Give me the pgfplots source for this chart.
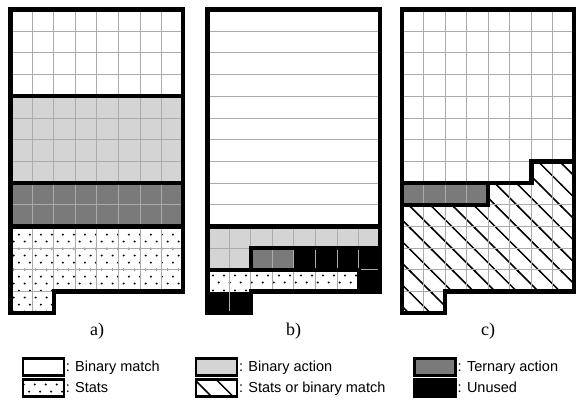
\documentclass[border=0pt]{standalone}
\usepackage{fontspec}
\setmainfont{Liberation Sans}
\newfontfamily\timesfont{Liberation Serif}
\usepackage{pgfplots}
\pgfplotsset{compat=1.18}
\usetikzlibrary{patterns}

\definecolor{gridgray}{HTML}{ABABAB}
\definecolor{actiongray}{HTML}{D4D4D4}
\definecolor{ternarygray}{HTML}{7A7A7A}

% stats: staggered dots, hatch: backslash lines one cell apart
\pgfdeclarepatternformonly{statdots}{\pgfqpoint{0bp}{0bp}}{\pgfqpoint{10.8bp}{14.4bp}}{\pgfqpoint{10.8bp}{14.4bp}}{%
  \pgfpathcircle{\pgfqpoint{2.7bp}{3.6bp}}{1.15bp}%
  \pgfpathcircle{\pgfqpoint{8.1bp}{10.8bp}}{1.15bp}%
  \pgfusepath{fill}}
\pgfdeclarepatternformonly{hatch}{\pgfqpoint{-1bp}{-1bp}}{\pgfqpoint{22.6bp}{22.6bp}}{\pgfqpoint{21.6bp}{21.6bp}}{%
  \pgfsetlinewidth{1.5bp}%
  \pgfpathmoveto{\pgfqpoint{-1bp}{22.6bp}}%
  \pgfpathlineto{\pgfqpoint{22.6bp}{-1bp}}%
  \pgfusepath{stroke}}

\pgfplotsset{
  panel/.style={xmin=0, xmax=8, ymin=0, ymax=14, y dir=reverse,
    width=172.8bp, height=303.8bp, scale only axis, hide axis,
    clip=false, anchor=north west},
  gridline/.style={gridgray, line width=1bp, mark=none, unbounded coords=jump, forget plot},
  region/.style={draw=none, mark=none, forget plot},
  border/.style={black, line width=4.3bp, mark=none, line join=miter, line cap=rect, unbounded coords=jump, forget plot},
}

\begin{document}
\begin{tikzpicture}
\path[use as bounding box] (0,0) rectangle (576bp,401bp);

% ---- a) ----
\begin{axis}[panel, at={(10.5bp,391.5bp)}]
\addplot[region, fill=actiongray] coordinates {(0,4) (8,4) (8,8) (0,8)} -- cycle;
\addplot[region, fill=ternarygray] coordinates {(0,8) (8,8) (8,10) (0,10)} -- cycle;
\addplot[region, pattern=statdots] coordinates {(0,10) (8,10) (8,13) (2,13) (2,14) (0,14)} -- cycle;
\addplot[gridline] coordinates {
  (1,0) (1,14) (1,nan) (2,0) (2,13) (2,nan) (3,0) (3,13) (3,nan) (4,0) (4,13) (4,nan)
  (5,0) (5,13) (5,nan) (6,0) (6,13) (6,nan) (7,0) (7,13) (7,nan)
  (0,1) (8,1) (8,nan) (0,2) (8,2) (8,nan) (0,3) (8,3) (8,nan) (0,5) (8,5) (8,nan)
  (0,6) (8,6) (8,nan) (0,7) (8,7) (8,nan) (0,9) (8,9) (8,nan) (0,11) (8,11) (8,nan)
  (0,12) (8,12) (8,nan) (0,13) (2,13)};
\addplot[border] coordinates {(0,4) (8,4) (8,nan) (0,8) (8,8) (8,nan) (0,10) (8,10)};
\addplot[border] coordinates {(0,0) (8,0) (8,13) (2,13) (2,14) (0,14)} -- cycle;
\end{axis}

% ---- b) ----
\begin{axis}[panel, at={(207.5bp,391.5bp)}]
\addplot[region, fill=actiongray] coordinates {(0,10) (8,10) (8,11) (2,11) (2,12) (0,12)} -- cycle;
\addplot[region, fill=ternarygray] coordinates {(2,11) (4,11) (4,12) (2,12)} -- cycle;
\addplot[region, fill=black] coordinates {(4,11) (8,11) (8,13) (7,13) (7,12) (4,12)} -- cycle;
\addplot[region, fill=black] coordinates {(0,13) (2,13) (2,14) (0,14)} -- cycle;
\addplot[region, pattern=statdots] coordinates {(0,12) (7,12) (7,13) (0,13)} -- cycle;
\addplot[gridline] coordinates {
  (0,1) (8,1) (8,nan) (0,2) (8,2) (8,nan) (0,3) (8,3) (8,nan) (0,4) (8,4) (8,nan)
  (0,5) (8,5) (8,nan) (0,6) (8,6) (8,nan) (0,7) (8,7) (8,nan) (0,8) (8,8) (8,nan)
  (0,9) (8,9) (8,nan) (0,11) (8,11) (8,nan) (0,12) (8,12) (8,nan)
  (1,10) (1,14) (1,nan) (2,10) (2,13) (2,nan) (3,10) (3,13) (3,nan) (4,10) (4,13) (4,nan)
  (5,10) (5,13) (5,nan) (6,10) (6,13) (6,nan) (7,10) (7,12)};
\addplot[border] coordinates {(0,10) (8,10) (8,nan) (8,11) (2,11) (2,12) (2,nan) (0,12) (7,12) (7,13)};
\addplot[border] coordinates {(0,0) (8,0) (8,13) (2,13) (2,14) (0,14)} -- cycle;
\end{axis}

% ---- c) ----
\begin{axis}[panel, at={(401.8bp,391.5bp)}]
\addplot[region, fill=ternarygray] coordinates {(0,8) (4,8) (4,9) (0,9)} -- cycle;
\addplot[region, pattern=hatch] coordinates {(6,7) (8,7) (8,13) (2,13) (2,14) (0,14) (0,9) (4,9) (4,8) (6,8)} -- cycle;
\addplot[gridline] coordinates {
  (1,0) (1,14) (1,nan) (2,0) (2,13) (2,nan) (3,0) (3,13) (3,nan) (4,0) (4,13) (4,nan)
  (5,0) (5,13) (5,nan) (6,0) (6,13) (6,nan) (7,0) (7,13) (7,nan)
  (0,1) (8,1) (8,nan) (0,2) (8,2) (8,nan) (0,3) (8,3) (8,nan) (0,4) (8,4) (8,nan)
  (0,5) (8,5) (8,nan) (0,6) (8,6) (8,nan) (0,7) (8,7) (8,nan) (0,9) (8,9) (8,nan)
  (0,10) (8,10) (8,nan) (0,11) (8,11) (8,nan) (0,12) (8,12) (8,nan) (0,13) (2,13)};
\addplot[border] coordinates {(8,7) (6,7) (6,8) (0,8) (0,nan) (4,8) (4,9) (0,9)};
\addplot[border] coordinates {(0,0) (8,0) (8,13) (2,13) (2,14) (0,14)} -- cycle;
\end{axis}

% ---- labels and legend ----
\begin{axis}[xmin=0, xmax=576, ymin=0, ymax=401, width=576bp, height=401bp,
  scale only axis, hide axis, clip=false, at={(0,0)}, anchor=south west,
  legend columns=3, legend cell align=left,
  legend image code/.code={\draw[#1, line width=2.2bp] (0bp,-8.5bp) rectangle (41bp,8.5bp);},
  legend style={at={(0.0375,0.1085)}, anchor=north west, draw=none, fill=none,
    inner sep=0pt, outer sep=0pt,
    font=\fontsize{14.5bp}{17bp}\selectfont,
    nodes={inner sep=1bp},
    /tikz/row sep=1.8bp,
    /tikz/column 2/.style={column sep=34bp},
    /tikz/column 4/.style={column sep=27bp}},
]
\node[font=\timesfont\fontsize{18bp}{20bp}\selectfont] at (axis cs:97,70) {a)};
\node[font=\timesfont\fontsize{18bp}{20bp}\selectfont] at (axis cs:293.5,70) {b)};
\node[font=\timesfont\fontsize{18bp}{20bp}\selectfont] at (axis cs:488,70) {c)};
\addlegendimage{draw=black, fill=white}
\addlegendimage{draw=black, fill=actiongray}
\addlegendimage{draw=black, fill=ternarygray}
\addlegendimage{draw=black, pattern=statdots}
\addlegendimage{draw=black, pattern=hatch}
\addlegendimage{draw=black, fill=black}
\legend{: Binary match, : Binary action, : Ternary action, : Stats, : Stats or binary match, : Unused}
\end{axis}
\end{tikzpicture}
\end{document}
